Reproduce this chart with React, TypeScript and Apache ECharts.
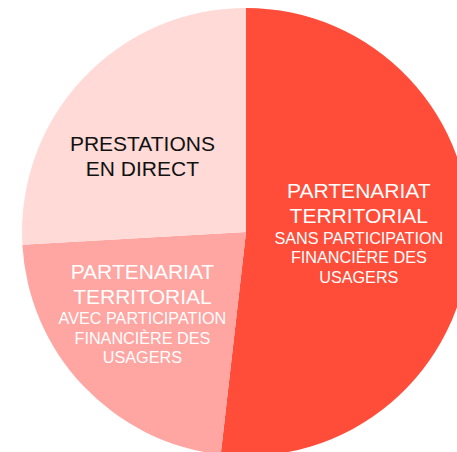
import React, { useEffect, useRef } from "react";
import * as echarts from "echarts";

const categories = [
  "PARTENARIAT TERRITORIAL SANS PARTICIPATION FINANCIÈRE DES USAGERS",
  "PARTENARIAT TERRITORIAL AVEC PARTICIPATION FINANCIÈRE DES USAGERS",
  "PRESTATIONS EN DIRECT",
];
const values = [51.8, 22.3, 25.9];
const titleLines = [
  ["PARTENARIAT", "TERRITORIAL"],
  ["PARTENARIAT", "TERRITORIAL"],
  ["PRESTATIONS", "EN DIRECT"],
];
const subLines = [
  ["SANS PARTICIPATION", "FINANCIÈRE DES", "USAGERS"],
  ["AVEC PARTICIPATION", "FINANCIÈRE DES", "USAGERS"],
  [] as string[],
];
const colors = ["#FF4D3A", "#FFA5A2", "#FFDAD6"];
const labelColors = ["#ffffff", "#ffffff", "#111111"];
const labelOffsets = [
  [-2, -6],
  [-20, 2],
  [-20, 3],
];

export default function App() {
  const ref = useRef<HTMLDivElement>(null);
  useEffect(() => {
    if (!ref.current) return;
    const chart = echarts.init(ref.current, null, { renderer: "svg" });
    const font = "'Liberation Sans', Arial, sans-serif";
    chart.setOption({
      animation: false,
      backgroundColor: "#ffffff",
      series: [
        {
          type: "pie",
          center: [246, 232],
          radius: [0, 224],
          startAngle: 90,
          clockwise: true,
          avoidLabelOverlap: false,
          label: { show: true, position: "inside" },
          labelLine: { show: false },
          itemStyle: { borderWidth: 0 },
          emphasis: { disabled: true },
          data: categories.map((name, i) => ({
            name,
            value: values[i],
            itemStyle: { color: colors[i] },
            label: {
              show: true,
              position: "inside",
              offset: labelOffsets[i],
              align: "center",
              formatter: [
                ...titleLines[i].map((t) => `{a|${t}}`),
                ...subLines[i].map((t) => `{b|${t}}`),
              ].join("\n"),
              rich: {
                a: {
                  fontFamily: font,
                  fontSize: 21,
                  lineHeight: 25,
                  color: labelColors[i],
                  align: "center",
                },
                b: {
                  fontFamily: font,
                  fontSize: 16.2,
                  lineHeight: 19.5,
                  color: labelColors[i],
                  align: "center",
                },
              },
            },
          })),
        },
      ],
    });
    return () => chart.dispose();
  }, []);
  return (
    <div
      ref={ref}
      style={{ position: "fixed", left: 0, top: 0, width: 457, height: 452 }}
    />
  );
}
